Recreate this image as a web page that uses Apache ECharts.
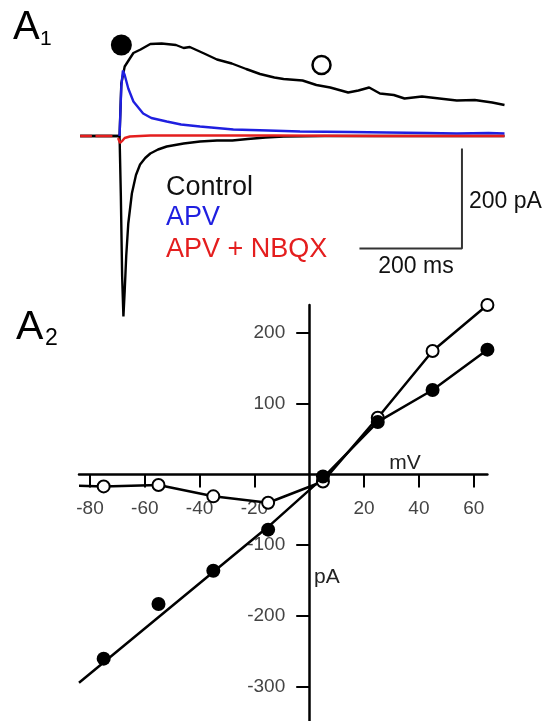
<!DOCTYPE html>
<html>
<head>
<meta charset="utf-8">
<script src="https://cdn.jsdelivr.net/npm/echarts@6/dist/echarts.min.js"></script>
<style>
html,body{margin:0;padding:0;background:#fff;}
#chart{width:551px;height:721px;}
</style>
</head>
<body>
<div id="chart"></div>
<script>
// ---------- Panel A1: current traces (time in ms, current in pA) ----------
const ctrlUpT = [-77, 0, 3.4, 10, 20, 27, 41, 60, 82, 110, 125, 137, 165, 190, 219, 247, 274, 302, 320, 357, 384, 411, 446, 466, 487, 508, 535, 556, 590, 624, 658, 693, 727, 751];
const ctrlUpI = [0, 0, 105, 139, 155, 166, 173, 184, 185, 182, 176, 178, 165, 153, 145, 134, 124, 117, 114, 111, 102, 97, 87, 91, 97, 85, 82, 75, 79, 75, 71, 72, 67, 62];

const ctrlDownT = [-77, 0, 2.5, 5, 7.5, 10, 13, 17, 24, 32, 40, 50, 60, 75, 92, 125, 157, 190, 220, 250, 285, 320, 400, 500, 600, 751];
const ctrlDownI = [0, 0, -120, -280, -361, -310, -240, -175, -115, -78, -57, -44, -35, -27, -21, -15, -11, -9, -9, -6, -3, -1, 0, 0, 0, 0];

const apvT = [0, 3.4, 6.5, 10, 17, 27, 46, 62, 92, 120, 157, 222, 290, 352, 450, 521, 600, 658, 720, 751];
const apvI = [0, 99, 131, 122, 95, 69, 45, 36, 29, 23, 19, 13, 11, 9, 8, 7, 6, 5, 6, 5];

// null = gap in the recorded trace
const nbqxT = [-77, -54, -50, -47, -14, -9, -3, 1, 5, 10, 20, 40, 60, 150, 300, 500, 751];
const nbqxI = [0, 0, null, 0, 0, null, -4, -14, -10, -4, -1, 0, 1, 1, 1, 0, 0];

// annotation markers on the traces
const markFilledA1 = [3.5, 182];
const markOpenA1 = [394, 142];

// scale bar (ms, pA)
const scaleBarT = [468, 668, 668];
const scaleBarI = [-225, -225, -25];

// ---------- Panel A2: I-V relation (mV, pA) ----------
const voltages = [-75, -55, -35, -15, 5, 25, 45, 65];
const filledI = [-260, -183, -136, -78, -3, 74, 119, 176];
const openI = [-17, -15, -31, -40, -10, 80, 174, 239];

const filledLineV = [-84, -15, 5, 25, 45, 65];
const filledLineI = [-294, -74, -5, 74, 119, 176];
const openLineV = [-84, -75, -55, -35, -15, 5, 25, 45, 65];
const openLineI = [-16, -17, -15, -31, -40, -10, 80, 174, 239];

const xTicks = [-80, -60, -40, -20, 20, 40, 60];
const yTicks = [-300, -200, -100, 100, 200];
const vMin = -84, vMax = 65, iMin = -348, iMax = 239;

const FF = '"Liberation Sans", Arial, Helvetica, sans-serif';
const BLUE = '#1f1fe0';
const RED = '#e41e1e';

function pairs(xs, ys) {
  return xs.map((x, i) => [x, ys[i] === null ? '-' : ys[i]]);
}

const chart = echarts.init(document.getElementById('chart'), null, {renderer: 'canvas'});

const traceLine = (xs, ys, color, z) => ({
  type: 'line', xAxisIndex: 0, yAxisIndex: 0, data: pairs(xs, ys),
  showSymbol: false, symbol: 'none', connectNulls: false, clip: false,
  lineStyle: {color: color, width: 2.4}, z: z, animation: false
});

// IV plot geometry: origin at (309.3, 474.4)
const ivLeft = 79, ivWidth = 408.4, ivTop = 305, ivHeight = 416;
const x0px = ivLeft + (0 - vMin) / (vMax - vMin) * ivWidth;
const y0px = ivTop + (iMax - 0) / (iMax - iMin) * ivHeight;

const hiddenAxis = (gi, mn, mx) => ({gridIndex: gi, type: 'value', min: mn, max: mx, show: false});

const option = {
  animation: false,
  backgroundColor: '#fff',
  grid: [
    {left: 80.1, width: 424.4, top: 36, height: 285, containLabel: false, outerBoundsMode: 'none'},
    {left: ivLeft, width: ivWidth, top: ivTop, height: ivHeight, containLabel: false, outerBoundsMode: 'none'},
    // grid whose bottom edge is the zero-current line (carries the mV axis)
    {left: ivLeft, width: ivWidth, top: ivTop, height: y0px - ivTop, containLabel: false, outerBoundsMode: 'none'},
    // grid whose left edge is the zero-voltage line (carries the pA axis)
    {left: x0px, width: ivLeft + ivWidth - x0px, top: ivTop, height: ivHeight, containLabel: false, outerBoundsMode: 'none'}
  ],
  xAxis: [
    hiddenAxis(0, -77, 751),
    hiddenAxis(1, vMin, vMax),
    {gridIndex: 2, type: 'value', min: vMin, max: vMax, position: 'bottom',
     axisLine: {show: true, onZero: false, lineStyle: {color: '#000', width: 2.5}},
     axisTick: {show: true, customValues: xTicks, length: 13, lineStyle: {color: '#000', width: 2}},
     axisLabel: {show: true, customValues: xTicks, margin: 25, fontSize: 19, color: '#444', fontFamily: FF},
     splitLine: {show: false}},
    hiddenAxis(3, 0, 1)
  ],
  yAxis: [
    hiddenAxis(0, -370, 200),
    hiddenAxis(1, iMin, iMax),
    hiddenAxis(2, 0, 1),
    {gridIndex: 3, type: 'value', min: iMin, max: iMax, position: 'left',
     axisLine: {show: true, onZero: false, lineStyle: {color: '#000', width: 2.5}},
     axisTick: {show: true, customValues: yTicks, length: 13, lineStyle: {color: '#000', width: 2}},
     axisLabel: {show: true, customValues: yTicks, margin: 24, fontSize: 19, color: '#444', fontFamily: FF},
     splitLine: {show: false}}
  ],
  series: [
    traceLine(ctrlUpT, ctrlUpI, '#000', 2),
    traceLine(ctrlDownT, ctrlDownI, '#000', 2),
    traceLine(apvT, apvI, BLUE, 3),
    traceLine(nbqxT, nbqxI, RED, 4),
    {type: 'line', xAxisIndex: 0, yAxisIndex: 0, data: pairs(scaleBarT, scaleBarI),
     showSymbol: false, symbol: 'none', clip: false, lineStyle: {color: '#333', width: 2}, z: 2},
    {type: 'scatter', xAxisIndex: 0, yAxisIndex: 0, data: [markFilledA1], symbol: 'circle',
     symbolSize: 21, itemStyle: {color: '#000', opacity: 1}, z: 6, clip: false},
    {type: 'scatter', xAxisIndex: 0, yAxisIndex: 0, data: [markOpenA1], symbol: 'circle',
     symbolSize: 18, itemStyle: {color: 'rgba(255,255,255,0)', borderColor: '#000', borderWidth: 2.5, opacity: 1}, z: 6, clip: false},

    {type: 'line', xAxisIndex: 1, yAxisIndex: 1, data: pairs(openLineV, openLineI),
     showSymbol: false, symbol: 'none', clip: false, lineStyle: {color: '#000', width: 2.5}, z: 3},
    {type: 'line', xAxisIndex: 1, yAxisIndex: 1, data: pairs(filledLineV, filledLineI),
     showSymbol: false, symbol: 'none', clip: false, lineStyle: {color: '#000', width: 2.5}, z: 3},
    {type: 'scatter', xAxisIndex: 1, yAxisIndex: 1, data: pairs(voltages, openI), symbol: 'circle',
     symbolSize: 12, itemStyle: {color: '#fff', borderColor: '#000', borderWidth: 2, opacity: 1}, z: 5, clip: false},
    {type: 'scatter', xAxisIndex: 1, yAxisIndex: 1, data: pairs(voltages, filledI), symbol: 'circle',
     symbolSize: 14, itemStyle: {color: '#000', opacity: 1}, z: 6, clip: false}
  ],
  graphic: [
    {type: 'text', x: 13, y: 27.5, style: {text: 'A', fontSize: 40, fontFamily: FF, fill: '#000', align: 'left', verticalAlign: 'middle'}},
    {type: 'text', x: 40, y: 39.5, style: {text: '1', fontSize: 21, fontFamily: FF, fill: '#000', align: 'left', verticalAlign: 'middle'}},
    {type: 'text', x: 16, y: 328, style: {text: 'A', fontSize: 41, fontFamily: FF, fill: '#000', align: 'left', verticalAlign: 'middle'}},
    {type: 'text', x: 45, y: 338.5, style: {text: '2', fontSize: 23, fontFamily: FF, fill: '#000', align: 'left', verticalAlign: 'middle'}},

    {type: 'text', x: 166, y: 187.5, style: {text: 'Control', fontSize: 27, fontFamily: FF, fill: '#111', align: 'left', verticalAlign: 'middle'}},
    {type: 'text', x: 166, y: 217.5, style: {text: 'APV', fontSize: 27, fontFamily: FF, fill: BLUE, align: 'left', verticalAlign: 'middle'}},
    {type: 'text', x: 166, y: 249.5, style: {text: 'APV + NBQX', fontSize: 27, fontFamily: FF, fill: RED, align: 'left', verticalAlign: 'middle'}},

    {type: 'text', x: 469, y: 201.5, style: {text: '200 pA', fontSize: 23, fontFamily: FF, fill: '#111', align: 'left', verticalAlign: 'middle'}},
    {type: 'text', x: 416, y: 267, style: {text: '200 ms', fontSize: 23, fontFamily: FF, fill: '#111', align: 'center', verticalAlign: 'middle'}},

    {type: 'text', x: 405, y: 463, style: {text: 'mV', fontSize: 21, fontFamily: FF, fill: '#222', align: 'center', verticalAlign: 'middle'}},
    {type: 'text', x: 314, y: 577, style: {text: 'pA', fontSize: 21, fontFamily: FF, fill: '#222', align: 'left', verticalAlign: 'middle'}}
  ]
};

chart.setOption(option);
</script>
</body>
</html>
